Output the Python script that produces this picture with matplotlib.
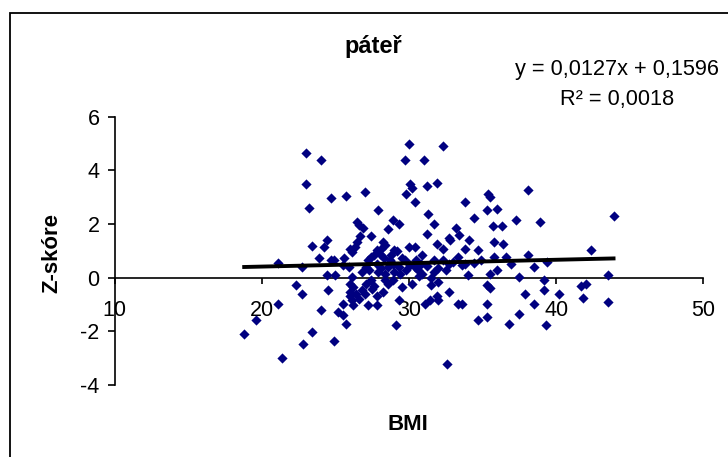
import numpy as np
import matplotlib
matplotlib.use("Agg")
import matplotlib.pyplot as plt
from matplotlib.patches import Rectangle

plt.rcParams['font.family'] = ['Liberation Sans', 'DejaVu Sans']
plt.rcParams['axes.unicode_minus'] = False

title = "páteř"
xlabel = "BMI"
ylabel = "Z-skóre"
eq_text = "y = 0,0127x + 0,1596"
r2_text = "R² = 0,0018"
slope = 0.0127
intercept = 0.1596

xticks = [10, 20, 30, 40, 50]
yticks = [-4, -2, 0, 2, 4, 6]

bmi = [23.0, 24.0, 23.0, 23.2, 24.7, 25.7, 27.0, 30.0, 32.3, 29.7, 31.0, 30.1, 30.2, 29.8,
       31.2, 31.9, 30.4, 27.9, 33.8, 35.4, 35.5, 35.3, 36.0, 38.1, 43.9, 38.9, 37.3, 34.4,
       35.7, 36.3, 31.3, 31.7, 29.3, 28.9, 26.5, 26.6, 26.9, 28.6, 31.2, 32.3, 33.2, 33.4,
       32.7, 32.8, 31.9, 34.1, 33.8, 34.7, 35.8, 36.4, 42.4, 26.7, 27.4, 26.5, 26.3, 26.0,
       26.1, 28.2, 28.4, 28.1, 27.8, 29.0, 29.2, 30.0, 30.4, 23.4, 24.2, 24.4, 23.9, 21.1,
       22.7, 24.7, 24.9, 25.6, 25.5, 25.9, 24.4, 25.0, 27.2, 27.4, 27.1, 27.8, 28.7, 28.9,
       28.6, 29.3, 29.7, 30.1, 30.4, 30.8, 30.9, 31.7, 32.3, 32.7, 33.3, 33.6, 33.8, 34.9,
       35.8, 36.6, 38.1, 39.4, 38.5, 27.9, 28.4, 29.0, 29.4, 30.6, 30.9, 31.7, 34.0, 35.5,
       36.0, 37.5, 43.5, 39.2, 26.1, 26.0, 26.2, 27.1, 27.4, 28.4, 28.6, 29.5, 30.2, 32.0,
       31.5, 35.3, 35.5, 22.3, 22.7, 24.5, 26.0, 26.8, 27.5, 28.2, 27.8, 26.0, 26.4, 26.6,
       26.1, 25.5, 26.2, 27.2, 27.8, 31.4, 31.9, 32.0, 32.7, 31.1, 33.3, 33.6, 35.3, 37.9,
       38.5, 39.2, 40.2, 41.7, 42.0, 41.8, 43.5, 37.5, 36.8, 39.3, 35.3, 34.7, 32.6, 29.1,
       29.3, 21.1, 18.8, 19.6, 21.4, 22.8, 23.4, 24.0, 24.9, 25.2, 25.5, 25.7,
       27.6, 28.0, 28.3, 28.8, 29.5, 27.3, 28.1, 29.8, 30.5, 31.2, 32.0, 26.8, 27.0, 27.6,
       28.9, 30.7, 31.5, 32.5, 33.0, 34.4, 36.9]

z = [4.65, 4.37, 3.48, 2.58, 2.96, 3.03, 3.18, 4.97, 4.89, 4.37, 4.37, 3.50, 3.34, 3.13,
     3.42, 3.54, 2.82, 2.51, 2.82, 3.13, 3.01, 2.51, 2.57, 3.25, 2.29, 2.07, 2.14, 2.22,
     1.91, 1.91, 2.39, 2.01, 2.01, 2.14, 2.07, 1.95, 1.85, 1.83, 1.64, 1.08, 1.85, 1.58,
     1.49, 1.39, 1.27, 1.42, 1.08, 1.02, 1.33, 1.24, 1.02, 1.54, 1.54, 1.33, 1.14, 1.08,
     0.96, 1.33, 1.20, 1.08, 1.02, 1.04, 0.99, 1.14, 1.14, 1.17, 1.14, 1.42, 0.75, 0.55,
     0.40, 0.65, 0.67, 0.75, 0.46, 0.40, 0.09, 0.09, 0.67, 0.77, 0.40, 0.52, 0.65, 0.52,
     0.40, 0.40, 0.65, 0.46, 0.40, 0.52, 0.83, 0.65, 0.65, 0.52, 0.77, 0.46, 0.52, 0.67,
     0.77, 0.77, 0.83, 0.58, 0.40, 0.21, 0.15, 0.21, 0.15, 0.27, 0.15, 0.21, 0.09, 0.15,
     0.30, 0.02, 0.09, -0.10, 0.02, -0.22, -0.35, -0.22, -0.10, -0.10, -0.22, -0.35, -0.22, -0.16,
     -0.29, -0.29, -0.39, -0.29, -0.60, -0.45, -0.53, -0.47, -0.41, -0.53, -0.70, -0.70, -0.60, -0.78,
     -0.84, -0.97, -1.03, -1.03, -1.03, -0.84, -0.70, -0.84, -0.53, -0.97, -0.97, -0.99, -0.97, -0.60,
     -0.97, -0.45, -0.60, -0.32, -0.22, -0.76, -0.91, -1.34, -1.71, -1.78, -1.47, -1.57, -3.20, -1.78,
     -0.84, -0.97, -2.09, -1.57, -2.98, -2.46, -2.02, -1.19, -2.37, -1.28, -1.40, -1.71,
     0.85, 0.90, 0.75, 0.85, 0.75, 0.30, 0.35, 0.30, 0.65, 0.45, 0.35, 0.20, -0.60, -0.30,
     -0.10, 0.05, 0.00, 0.30, 0.60, 0.55, 0.50]

fig = plt.figure(figsize=(7.28, 4.57), dpi=100)
fig.patches.append(Rectangle((9.5 / 728, -0.1), 1.2, 1.1 - 13.5 / 457, transform=fig.transFigure,
                             fill=False, edgecolor='black', linewidth=1.3, zorder=0))

ax = fig.add_axes([114.7 / 728, 1 - 385 / 457, 588.6 / 728, 268.3 / 457])
ax.set_facecolor('none')

ax.scatter(bmi, z, marker='D', s=27, color='#000080', linewidths=0, zorder=3, clip_on=False)

xl = np.array([min(bmi), max(bmi)])
ax.plot(xl, slope * xl + intercept, color='black', linewidth=2.8, zorder=4)

ax.set_xlim(10, 50)
ax.set_ylim(-4, 6)
ax.set_xticks(xticks)
ax.set_yticks(yticks)
ax.spines['top'].set_visible(False)
ax.spines['right'].set_visible(False)
ax.spines['bottom'].set_position(('data', 0))
ax.spines['bottom'].set_linewidth(1.2)
ax.spines['left'].set_linewidth(1.2)
ax.tick_params(axis='x', direction='out', length=4, width=1.2, pad=12, labelsize=15.5)
ax.tick_params(axis='y', direction='out', length=5, width=1.2, pad=6, labelsize=15.5)

fig.text(373.7 / 728, 1 - 46.7 / 457, title, ha='center', va='center', fontsize=17, fontweight='bold')
fig.text(617 / 728, 1 - 70 / 457, eq_text, ha='center', va='center', fontsize=15.7)
fig.text(617 / 728, 1 - 99 / 457, r2_text, ha='center', va='center', fontsize=15.7)
fig.text(52 / 728, 1 - 253 / 457, ylabel, ha='center', va='center', rotation=90,
         fontsize=16, fontweight='bold')
fig.text(407.6 / 728, 1 - 425 / 457, xlabel, ha='center', va='center', fontsize=16, fontweight='bold')

fig.savefig('out.png', dpi=100)
